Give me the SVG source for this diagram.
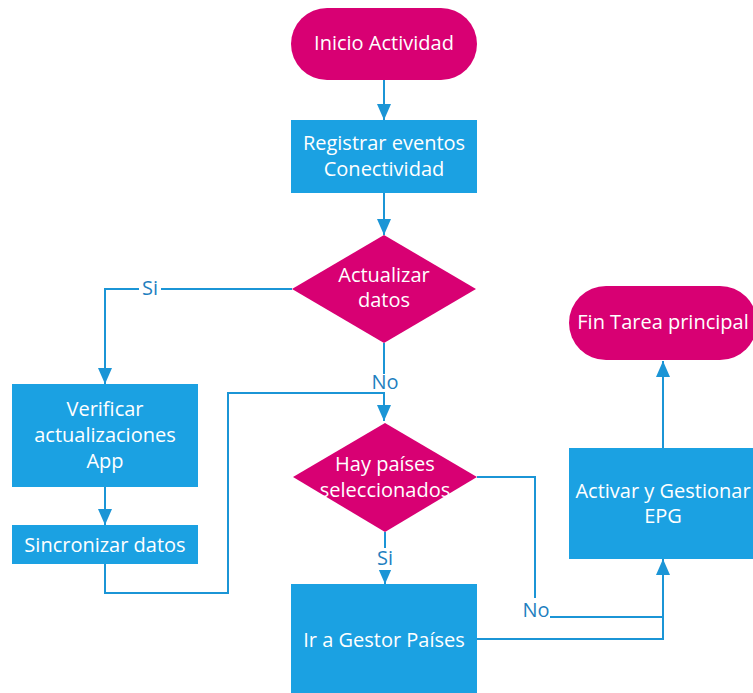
<svg xmlns="http://www.w3.org/2000/svg" width="753" height="693" viewBox="0 0 753 693">
  <style>
    .term { fill: #D80073; }
    .proc { fill: #1BA1E2; }
    .dec { fill: #D80073; }
    .txt { font-family: "Open Sans", "Noto Sans", "DejaVu Sans", sans-serif; font-size: 20px; fill: #ffffff; text-anchor: middle; dominant-baseline: central; }
    .edge { fill: none; stroke: #1B95D6; stroke-width: 2; }
    .lblbg { fill: #ffffff; }
    .lbl { font-family: "Open Sans", "Noto Sans", "DejaVu Sans", sans-serif; font-size: 20px; fill: #1F7FBF; text-anchor: middle; dominant-baseline: central; }
  </style>
  <defs>
    <marker id="arrow" viewBox="0 0 16 14" refX="16" refY="7" markerWidth="16" markerHeight="14" markerUnits="userSpaceOnUse" orient="auto">
      <path d="M0,0 L16,7 L0,14 z" fill="#1B95D6"/>
    </marker>
  </defs>
  <rect width="753" height="693" fill="#ffffff"/>

  <!-- connectors -->
  <g id="connectors">
    <path class="edge" d="M384,80 V120" marker-end="url(#arrow)"/>
    <path class="edge" d="M384,193 V235" marker-end="url(#arrow)"/>
    <path class="edge" d="M292,289 H105 V384" marker-end="url(#arrow)"/>
    <path class="edge" d="M105,487 V525" marker-end="url(#arrow)"/>
    <path class="edge" d="M105,564 V593 H228 V393 H384"/>
    <path class="edge" d="M384,343 V421" marker-end="url(#arrow)"/>
    <path class="edge" d="M385,532 V584" marker-end="url(#arrow)"/>
    <path class="edge" d="M477,477 H535 V617 H663"/>
    <path class="edge" d="M477,639 H663 V559" marker-end="url(#arrow)"/>
    <path class="edge" d="M663,448 V361" marker-end="url(#arrow)"/>

    <rect class="lblbg" x="139" y="279" width="22" height="20"/>
    <text class="lbl" x="150" y="287">Si</text>
    <rect class="lblbg" x="371" y="374" width="28" height="18"/>
    <text class="lbl" x="385" y="381">No</text>
    <rect class="lblbg" x="375" y="548" width="20" height="22"/>
    <text class="lbl" x="385" y="557">Si</text>
    <rect class="lblbg" x="521" y="598" width="29" height="26"/>
    <text class="lbl" x="536" y="609">No</text>
  </g>

  <g id="inicio">
    <rect class="term" x="291" y="8" width="186" height="72" rx="36" ry="36"/>
    <text class="txt" x="384" y="42">Inicio Actividad</text>
  </g>

  <g id="registrar">
    <rect class="proc" x="291" y="120" width="186" height="73"/>
    <text class="txt" x="384" y="142">Registrar eventos</text>
    <text class="txt" x="384" y="168">Conectividad</text>
  </g>

  <g id="actualizar">
    <polygon class="dec" points="384,235 476,289 384,343 292,289"/>
    <text class="txt" x="384" y="274">Actualizar</text>
    <text class="txt" x="384" y="299">datos</text>
  </g>

  <g id="verificar">
    <rect class="proc" x="12" y="384" width="186" height="103"/>
    <text class="txt" x="105" y="408">Verificar</text>
    <text class="txt" x="105" y="434">actualizaciones</text>
    <text class="txt" x="105" y="460">App</text>
  </g>

  <g id="sincronizar">
    <rect class="proc" x="12" y="525" width="186" height="39"/>
    <text class="txt" x="105" y="544">Sincronizar datos</text>
  </g>

  <g id="hay-paises">
    <polygon class="dec" points="385,423 477,477 385,532 293,477"/>
    <text class="txt" x="385" y="463">Hay países</text>
    <text class="txt" x="385" y="489">seleccionados</text>
  </g>

  <g id="gestor">
    <rect class="proc" x="291" y="584" width="186" height="114"/>
    <text class="txt" x="384" y="639">Ir a Gestor Países</text>
  </g>

  <g id="activar">
    <rect class="proc" x="569" y="448" width="188" height="111"/>
    <text class="txt" x="663" y="490">Activar y Gestionar</text>
    <text class="txt" x="663" y="515">EPG</text>
  </g>

  <g id="fin">
    <rect class="term" x="569" y="286" width="188" height="74" rx="37" ry="37"/>
    <text class="txt" x="663" y="321">Fin Tarea principal</text>
  </g>
</svg>
